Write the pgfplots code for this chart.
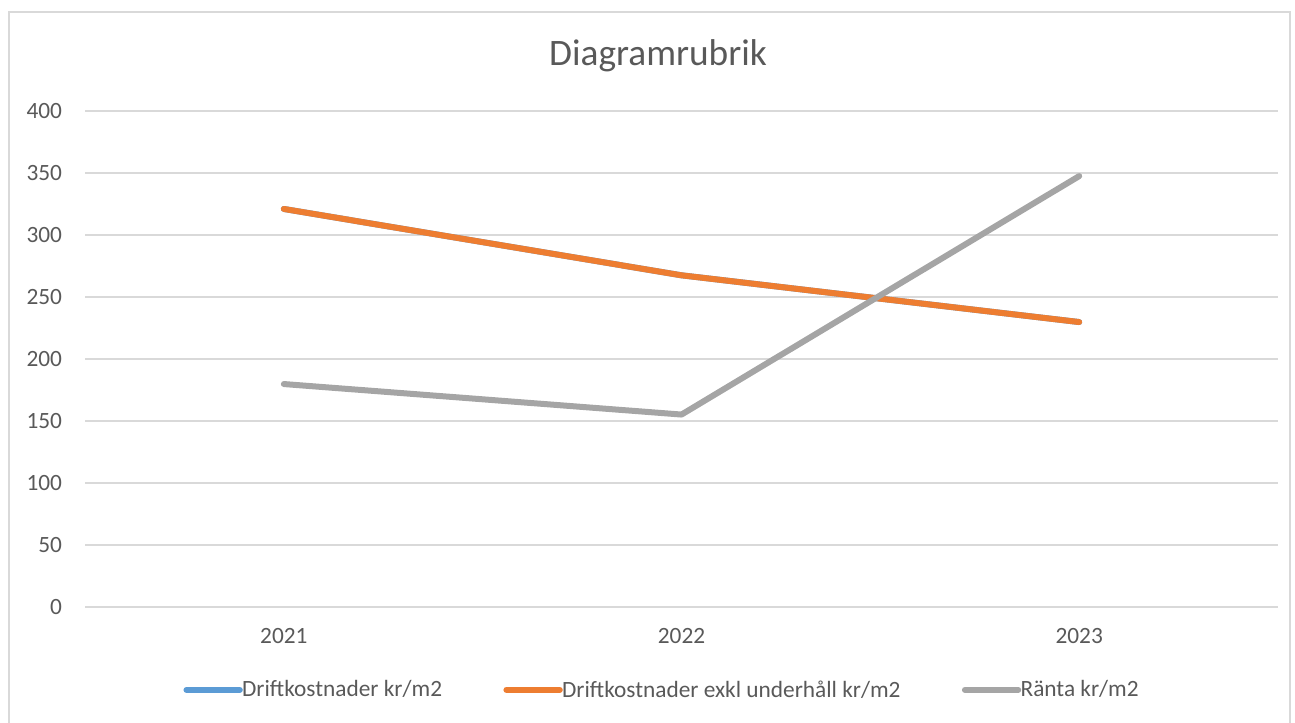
\documentclass[border=0pt]{standalone}
\usepackage{pgfplots}
\pgfplotsset{compat=1.18}
\usepackage{fontspec}
\setmainfont{Carlito}
\definecolor{txt}{HTML}{595959}
\definecolor{gridc}{HTML}{D9D9D9}
\definecolor{sblue}{HTML}{5B9BD5}
\definecolor{sorange}{HTML}{ED7D31}
\definecolor{sgray}{HTML}{A5A5A5}
\begin{document}
\begin{tikzpicture}
\path[use as bounding box] (0,0) rectangle (971.25pt,541.5pt);
\draw[gridc, line width=1pt] (6.75pt,-5pt) -- (6.75pt,532.5pt) -- (967.5pt,532.5pt) -- (967.5pt,-5pt);
\node[txt, font=\fontsize{28}{33}\selectfont] at (493.5pt,499.5pt) {Diagramrubrik};
\begin{axis}[
  at={(63.75pt,86.25pt)}, anchor=south west,
  scale only axis, width=894.75pt, height=372pt,
  xmin=-0.5, xmax=2.5, ymin=0, ymax=400,
  xtick={0,1,2}, xticklabels={2021,2022,2023},
  ytick={0,50,...,400},
  ymajorgrids, grid style={gridc, line width=1.1pt},
  axis line style={draw=none},
  major tick length=0pt,
  tick label style={txt, font=\fontsize{17.5}{20}\selectfont},
  /pgf/number format/assume math mode=true,
  yticklabel style={inner sep=0pt, anchor=east, xshift=-17pt},
  xticklabel style={inner sep=0pt, anchor=north, yshift=-16pt},
  legend columns=3,
  legend style={at={(0.484,-0.167)}, anchor=center, draw=none, fill=none,
    font=\fontsize{17.5}{20}\selectfont, text=txt,
    /tikz/every even column/.append style={column sep=44pt}},
  legend cell align=left,
  legend image code/.code={\draw[#1, line cap=round] (0pt,0pt) -- (40pt,0pt);},
  every axis plot/.append style={line width=4.5pt, line cap=round, line join=round},
]
\addplot[sblue] coordinates {(0,321) (1,267.5) (2,229.8)};
\addlegendentry{\hspace{-2.5pt}Driftkostnader kr/m2}
\addplot[sorange] coordinates {(0,321) (1,267.5) (2,229.8)};
\addlegendentry{\hspace{-2.5pt}Driftkostnader exkl underhåll kr/m2}
\addplot[sgray] coordinates {(0,179.8) (1,155.2) (2,347.5)};
\addlegendentry{\hspace{-2.5pt}Ränta kr/m2}
\end{axis}
\end{tikzpicture}
\end{document}
